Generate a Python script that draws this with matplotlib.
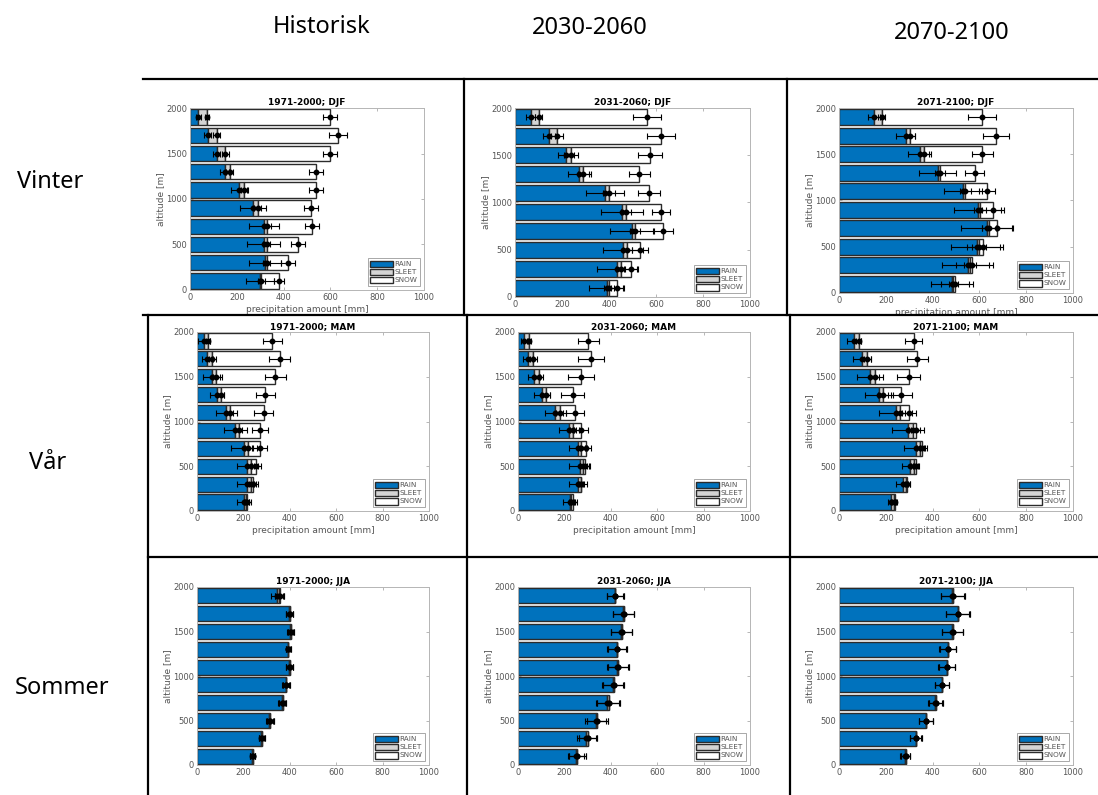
import matplotlib
matplotlib.use("Agg")
import matplotlib.pyplot as plt
import numpy as np
from matplotlib.patches import Patch
from matplotlib.lines import Line2D
from matplotlib.transforms import Bbox, TransformedBbox

# ---------------- data (values listed from 100 m up to 1900 m) ----------------
altitudes = [100, 300, 500, 700, 900, 1100, 1300, 1500, 1700, 1900]
col_headers = ["Historisk", "2030-2060", "2070-2100"]
row_labels = ["Vinter", "Vår", "Sommer"]
panel_titles = [["1971-2000; DJF", "2031-2060; DJF", "2071-2100; DJF"],
                ["1971-2000; MAM", "2031-2060; MAM", "2071-2100; MAM"],
                ["1971-2000; JJA", "2031-2060; JJA", "2071-2100; JJA"]]
legend_labels = ["RAIN", "SLEET", "SNOW"]

# DJF 1971-2000
djf_hist_rain = [300, 320, 315, 315, 270, 210, 148, 115, 75, 35]
djf_hist_sleet = [5, 8, 13, 15, 20, 22, 22, 35, 40, 38]
djf_hist_snow = [75, 92, 132, 190, 228, 305, 370, 450, 518, 524]
djf_hist_err_rain = [60, 70, 70, 65, 55, 35, 20, 15, 15, 10]
djf_hist_err_sleet = [15, 15, 15, 15, 15, 15, 15, 15, 15, 10]
djf_hist_err_total = [20, 30, 30, 30, 30, 30, 30, 30, 40, 30]
# DJF 2031-2060
djf_mid_rain = [390, 433, 461, 496, 454, 383, 274, 216, 145, 67]
djf_mid_sleet = [10, 17, 17, 15, 18, 17, 17, 22, 35, 35]
djf_mid_snow = [33, 42, 54, 120, 149, 170, 237, 336, 440, 458]
djf_mid_err_rain = [75, 85, 85, 90, 90, 80, 50, 35, 25, 20]
djf_mid_err_sleet = [20, 20, 20, 20, 20, 25, 25, 30, 25, 15]
djf_mid_err_total = [25, 30, 35, 40, 40, 45, 45, 50, 60, 60]
# DJF 2071-2100
djf_late_rain = [482, 550, 590, 633, 592, 530, 421, 345, 285, 150]
djf_late_sleet = [6, 10, 10, 10, 10, 10, 11, 20, 20, 32]
djf_late_snow = [7, 10, 16, 32, 56, 92, 148, 247, 365, 430]
djf_late_err_rain = [90, 110, 110, 110, 100, 80, 80, 50, 40, 25]
djf_late_err_sleet = [20, 25, 30, 30, 25, 25, 20, 20, 20, 15]
djf_late_err_total = [60, 70, 70, 65, 45, 35, 40, 45, 55, 60]
# MAM 1971-2000
mam_hist_rain = [203, 217, 217, 203, 165, 126, 88, 66, 45, 30]
mam_hist_sleet = [10, 14, 14, 17, 15, 15, 14, 17, 21, 17]
mam_hist_snow = [3, 10, 25, 52, 90, 146, 193, 255, 290, 278]
mam_hist_err_rain = [30, 45, 45, 55, 50, 45, 30, 40, 25, 25]
mam_hist_err_sleet = [10, 15, 15, 15, 15, 15, 15, 15, 15, 10]
mam_hist_err_total = [10, 15, 20, 30, 35, 40, 40, 45, 45, 40]
# MAM 2031-2060
mam_mid_rain = [223, 259, 266, 259, 220, 161, 104, 68, 43, 26]
mam_mid_sleet = [7, 11, 15, 14, 17, 19, 15, 21, 22, 21]
mam_mid_snow = [7, 3, 7, 18, 34, 65, 116, 182, 249, 255]
mam_mid_err_rain = [30, 40, 45, 40, 45, 45, 35, 25, 20, 15]
mam_mid_err_sleet = [10, 10, 15, 15, 15, 15, 20, 20, 15, 10]
mam_mid_err_total = [10, 10, 20, 25, 30, 40, 50, 55, 55, 45]
# MAM 2071-2100
mam_late_rain = [224, 273, 305, 328, 295, 242, 171, 131, 98, 64]
mam_late_sleet = [10, 12, 14, 20, 21, 20, 17, 21, 22, 20]
mam_late_snow = [4, 7, 9, 8, 12, 37, 78, 146, 215, 235]
mam_late_err_rain = [15, 30, 35, 50, 70, 70, 60, 55, 40, 30]
mam_late_err_sleet = [10, 10, 10, 15, 15, 20, 20, 20, 15, 10]
mam_late_err_total = [10, 10, 10, 10, 20, 30, 45, 50, 45, 35]
# JJA 1971-2000
jja_hist_rain = [238, 278, 312, 365, 382, 397, 392, 402, 398, 345]
jja_hist_sleet = [2, 2, 3, 5, 3, 3, 2, 2, 2, 10]
jja_hist_snow = [0, 0, 0, 0, 0, 0, 0, 0, 0, 2]
jja_hist_err_rain = [10, 12, 15, 15, 15, 15, 10, 12, 15, 25]
jja_hist_err_sleet = [10, 12, 15, 15, 15, 15, 10, 12, 15, 20]
jja_hist_err_total = [10, 12, 15, 15, 15, 15, 10, 12, 15, 20]
# JJA 2031-2060
jja_mid_rain = [250, 295, 335, 385, 408, 427, 425, 445, 453, 418]
jja_mid_sleet = [6, 7, 6, 6, 5, 5, 3, 3, 3, 2]
jja_mid_snow = [0, 0, 0, 0, 0, 0, 0, 0, 0, 0]
jja_mid_err_rain = [35, 40, 45, 50, 45, 45, 40, 45, 45, 35]
jja_mid_err_sleet = [35, 40, 45, 50, 45, 45, 40, 45, 45, 35]
jja_mid_err_total = [35, 40, 45, 50, 45, 45, 40, 45, 45, 35]
# JJA 2071-2100
jja_late_rain = [282, 327, 370, 410, 440, 460, 464, 485, 507, 485]
jja_late_sleet = [3, 3, 3, 3, 2, 2, 2, 2, 2, 2]
jja_late_snow = [0, 0, 0, 0, 0, 0, 0, 0, 0, 0]
jja_late_err_rain = [20, 25, 30, 30, 30, 35, 35, 45, 50, 50]
jja_late_err_sleet = [20, 25, 30, 30, 30, 35, 35, 45, 50, 50]
jja_late_err_total = [20, 25, 30, 30, 30, 35, 35, 45, 50, 50]

panels = [
    [(djf_hist_rain, djf_hist_sleet, djf_hist_snow, djf_hist_err_rain, djf_hist_err_sleet, djf_hist_err_total),
     (djf_mid_rain, djf_mid_sleet, djf_mid_snow, djf_mid_err_rain, djf_mid_err_sleet, djf_mid_err_total),
     (djf_late_rain, djf_late_sleet, djf_late_snow, djf_late_err_rain, djf_late_err_sleet, djf_late_err_total)],
    [(mam_hist_rain, mam_hist_sleet, mam_hist_snow, mam_hist_err_rain, mam_hist_err_sleet, mam_hist_err_total),
     (mam_mid_rain, mam_mid_sleet, mam_mid_snow, mam_mid_err_rain, mam_mid_err_sleet, mam_mid_err_total),
     (mam_late_rain, mam_late_sleet, mam_late_snow, mam_late_err_rain, mam_late_err_sleet, mam_late_err_total)],
    [(jja_hist_rain, jja_hist_sleet, jja_hist_snow, jja_hist_err_rain, jja_hist_err_sleet, jja_hist_err_total),
     (jja_mid_rain, jja_mid_sleet, jja_mid_snow, jja_mid_err_rain, jja_mid_err_sleet, jja_mid_err_total),
     (jja_late_rain, jja_late_sleet, jja_late_snow, jja_late_err_rain, jja_late_err_sleet, jja_late_err_total)],
]

# ---------------- layout ----------------
W, H = 1098, 795
fig = plt.figure(figsize=(W / 100, H / 100), dpi=100)
fig.patch.set_facecolor("white")

RAIN_C = "#0072BD"
SLEET_C = "#d4d4d4"
SNOW_C = "#ffffff"
EDGE_C = "#2b2b2b"
GRAY_T = "#555555"

# pixel boxes: (x0, x1, ytop, ybottom)
col_x = [[(190, 424), (515, 750), (839, 1073)],
         [(197, 429), (518, 750), (839, 1073)],
         [(197, 429), (518, 750), (839, 1073)]]
row_y = [[(108, 290), (108, 297), (108, 293)],
         [(332, 511), (332, 511), (332, 511)],
         [(587, 765), (587, 765), (587, 765)]]
# which panels show (clipped) x labels, and clip limit in pixels from top
xlabel_clip = {(0, 0): 314, (0, 2): 314, (1, 0): 556, (1, 1): 556, (1, 2): 556}


def fx(px):
    return px / W


def fy(py):
    return 1 - py / H


for r in range(3):
    for c in range(3):
        x0, x1 = col_x[r][c]
        yt, yb = row_y[r][c]
        ax = fig.add_axes([fx(x0), fy(yb), fx(x1 - x0), (yb - yt) / H])
        rain, sleet, snow, e_r, e_s, e_t = [np.array(a, dtype=float) for a in panels[r][c]]
        alt = np.array(altitudes)
        cum1 = rain
        cum2 = rain + sleet
        cum3 = rain + sleet + snow
        ax.barh(alt, rain, height=170, color=RAIN_C, edgecolor=EDGE_C, linewidth=1.0, zorder=2)
        ax.barh(alt, sleet, left=cum1, height=170, color=SLEET_C, edgecolor=EDGE_C, linewidth=1.0, zorder=2)
        ax.barh(alt, snow, left=cum2, height=170, color=SNOW_C, edgecolor=EDGE_C, linewidth=1.0, zorder=2)
        for vals, err in ((cum1, e_r), (cum2, e_s), (cum3, e_t)):
            ax.errorbar(vals, alt, xerr=err, fmt="o", color="black", ms=3.2,
                        elinewidth=0.8, capsize=2, capthick=0.8, zorder=4)
        ax.set_xlim(0, 1000)
        ax.set_ylim(0, 2000)
        ax.set_xticks([0, 200, 400, 600, 800, 1000])
        ax.set_yticks([0, 500, 1000, 1500, 2000])
        ax.tick_params(direction="in", length=2, width=0.5, colors="#9a9a9a",
                       labelcolor=GRAY_T, labelsize=6, top=True, right=True, pad=2)
        for s in ax.spines.values():
            s.set_color("#b5b5b5")
            s.set_linewidth(0.7)
        ax.set_title(panel_titles[r][c], fontsize=6.5, fontweight="bold", pad=2)
        ax.set_ylabel("altitude [m]", fontsize=6.5, color=GRAY_T, labelpad=1)
        if (r, c) in xlabel_clip:
            ax.set_xlabel("precipitation amount [mm]", fontsize=6.5, color=GRAY_T, labelpad=2)
            lab = ax.xaxis.label
            lab.set_clip_on(True)
            lab.set_clip_box(TransformedBbox(
                Bbox.from_extents(0, fy(xlabel_clip[(r, c)]), 1, 1), fig.transFigure))
        handles = [Patch(facecolor=col, edgecolor=EDGE_C, linewidth=1.0)
                   for col in (RAIN_C, SLEET_C, SNOW_C)]
        leg = ax.legend(handles, legend_labels, loc="lower right", fontsize=5.2,
                        handlelength=3.2, handleheight=1.1, labelspacing=0.15,
                        handletextpad=0.2, borderpad=0.3, borderaxespad=0.6,
                        fancybox=False, framealpha=1)
        leg.get_frame().set_edgecolor("#9a9a9a")
        leg.get_frame().set_linewidth(0.6)
        for t in leg.get_texts():
            t.set_color(GRAY_T)

# ---------------- frame lines ----------------
def hline(y, x0, x1):
    fig.add_artist(Line2D([fx(x0), fx(x1)], [fy(y), fy(y)], transform=fig.transFigure,
                          color="black", lw=1.6))


def vline(x, y0, y1):
    fig.add_artist(Line2D([fx(x), fx(x)], [fy(y0), fy(y1)], transform=fig.transFigure,
                          color="black", lw=1.6))


hline(79, 143, 1098)
hline(315, 143, 1098)
hline(557, 148, 1098)
vline(464, 79, 315)
vline(787, 79, 315)
vline(148, 315, 795)
vline(467, 315, 795)
vline(790, 315, 795)

# ---------------- headers ----------------
hdr_font = ["Noto Sans", "DejaVu Sans"]
header_pos = [(322, 27), (590, 28), (952, 33)]
for txt, (x, y) in zip(col_headers, header_pos):
    fig.text(fx(x), fy(y), txt, ha="center", va="center", fontsize=17, family=hdr_font)
row_pos = [(50, 182), (48, 463), (62, 688)]
for txt, (x, y) in zip(row_labels, row_pos):
    fig.text(fx(x), fy(y), txt, ha="center", va="center", fontsize=17, family=hdr_font)

fig.savefig("out.png", dpi=100, facecolor="white")
